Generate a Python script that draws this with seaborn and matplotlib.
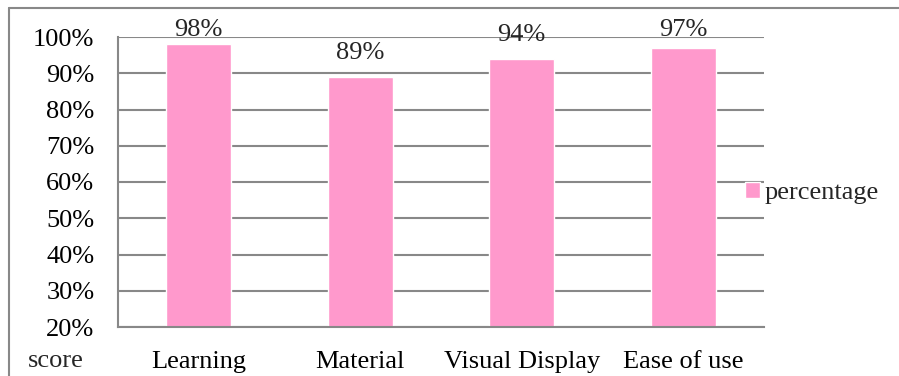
import matplotlib
matplotlib.use("Agg")
import matplotlib.pyplot as plt
import matplotlib.ticker as mticker
from matplotlib.lines import Line2D
import seaborn as sns
import pandas as pd

categories = ["Learning", "Material", "Visual Display", "Ease of use"]
percentage = [0.98, 0.89, 0.94, 0.97]
y_ticks = [0.2, 0.3, 0.4, 0.5, 0.6, 0.7, 0.8, 0.9, 1.0]

sns.set_style("white")
plt.rcParams['font.family'] = ['Liberation Serif', 'DejaVu Serif']
plt.rcParams['font.size'] = 19

GRID = '#888888'
PINK = '#ff99cc'

df = pd.DataFrame({"category": categories, "percentage": percentage})

fig = plt.figure(figsize=(8.99, 3.76), dpi=100)
ax = fig.add_axes([118/899, 1 - 327/376, (764 - 118)/899, (327 - 37)/376])

sns.barplot(data=df, x="category", y="percentage", color=PINK, width=0.4,
            saturation=1, ax=ax, label="percentage")

ax.set_ylim(0.2, 1.0)
ax.set_xlim(-0.5, len(categories) - 0.5)
ax.set_yticks(y_ticks)
ax.yaxis.set_major_formatter(mticker.PercentFormatter(1.0, decimals=0))
ax.grid(axis='y', color=GRID, linewidth=1.5)
ax.set_axisbelow(True)

for s in ['top', 'right']:
    ax.spines[s].set_visible(False)
for s in ['left', 'bottom']:
    ax.spines[s].set_color(GRID)
    ax.spines[s].set_linewidth(1.5)

# category boundary ticks
ax.set_xticks([i - 0.5 for i in range(len(categories) + 1)], minor=True)
ax.tick_params(axis='x', which='minor', length=5.5, width=1.5, color=GRID, direction='out')
ax.tick_params(axis='x', which='major', length=0, pad=17, colors='black')
ax.tick_params(axis='y', length=6, width=1.5, color=GRID, pad=11, colors='black')
ax.set_xlabel("")
ax.set_ylabel("")

# value labels (Excel keeps them inside the chart area)
for i, v in enumerate(percentage):
    ax.text(i, min(v + 0.05, 1.003), f"{v:.0%}", ha='center', va='baseline')

fig.text(28/899, 1 - 367/376, "score", ha='left', va='baseline')

ax.legend(loc='center left', bbox_to_anchor=(745/899, 1 - 193/376),
          bbox_transform=fig.transFigure, frameon=False, borderpad=0,
          borderaxespad=0, handlelength=0.55, handleheight=0.55,
          handletextpad=0.2)

# chart-area border (left and top edges visible in the crop)
top = 1 - 7.5/376
left = 8.5/899
fig.add_artist(Line2D([left, left], [0, top], transform=fig.transFigure,
                      color=GRID, linewidth=1.5))
fig.add_artist(Line2D([left, 1], [top, top], transform=fig.transFigure,
                      color=GRID, linewidth=1.5))

fig.savefig("out.png", dpi=100)
